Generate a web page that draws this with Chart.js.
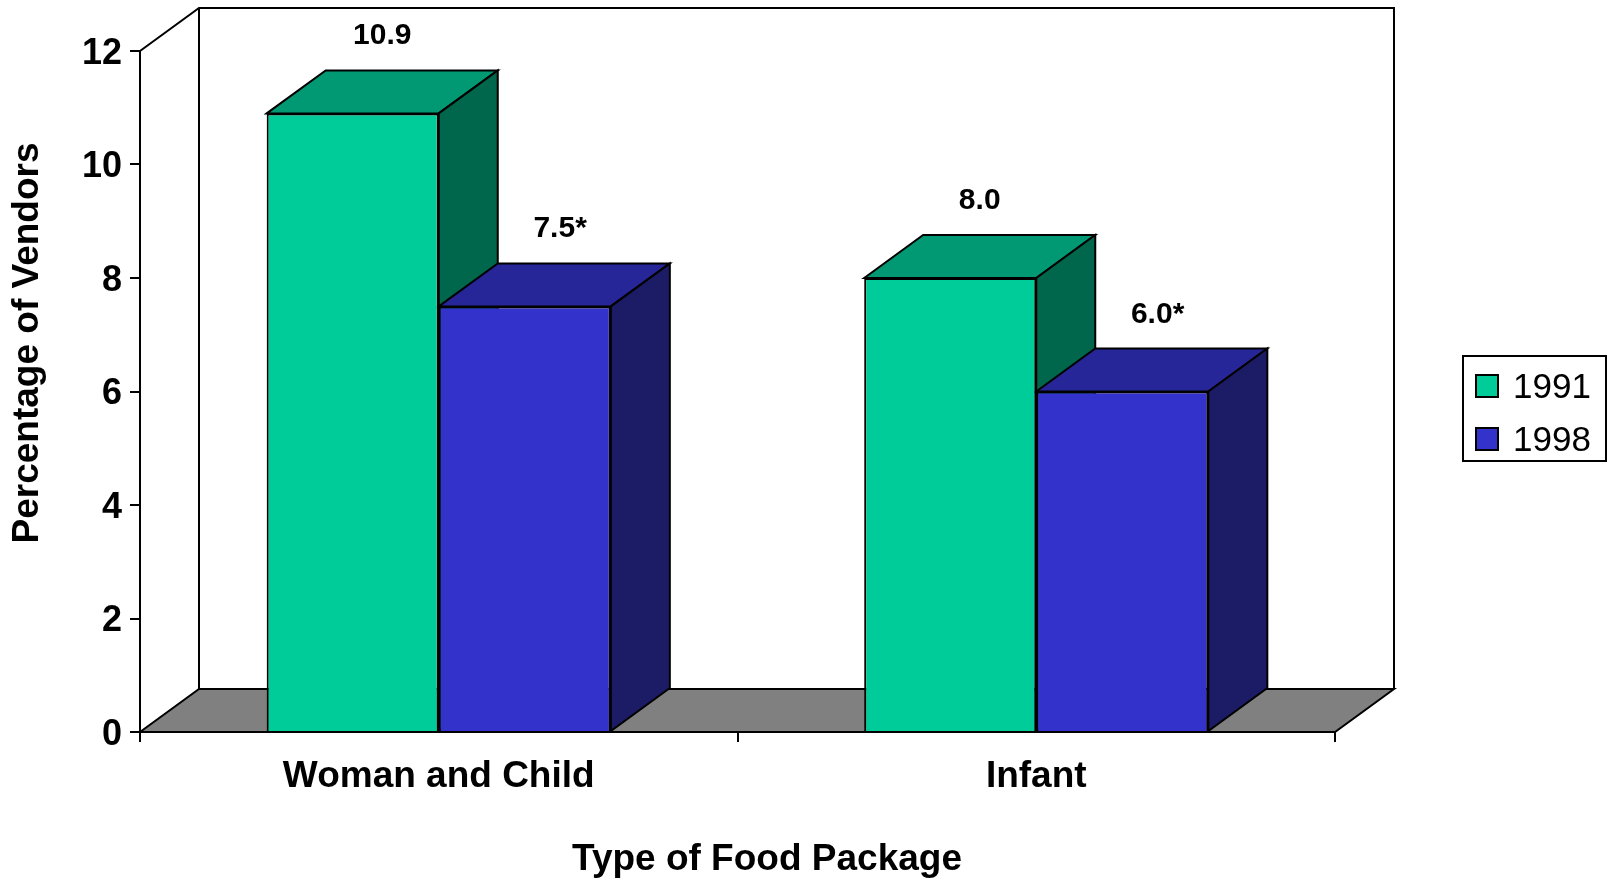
<!DOCTYPE html>
<html>
<head>
<meta charset="utf-8">
<script src="https://cdn.jsdelivr.net/npm/chart.js@4.4.1/dist/chart.umd.min.js"></script>
<style>
  html, body { margin: 0; padding: 0; background: #fff; }
</style>
</head>
<body>
<canvas id="vendorChart" width="1608" height="881"></canvas>
<script>
var packages = ['Woman and Child', 'Infant'];
var years = ['1991', '1998'];
var pct1991 = [10.9, 8.0];
var pct1998 = [7.5, 6.0];
var marks1991 = ['', ''];
var marks1998 = ['*', '*'];   // significant change from 1991
var yMax = 12, yStep = 2;

var frontColors = ['#00CC99', '#3333CC'];
var topColors = ['#009973', '#262699'];
var sideColors = ['#00664C', '#1C1C66'];
var DX = 59, DY = 43;   // depth of the 3d box
var FONT = "'Liberation Sans', Arial, sans-serif";

function poly(ctx, pts, fill) {
  ctx.beginPath();
  ctx.moveTo(pts[0][0], pts[0][1]);
  for (var i = 1; i < pts.length; i++) ctx.lineTo(pts[i][0], pts[i][1]);
  ctx.closePath();
  if (fill) { ctx.fillStyle = fill; ctx.fill(); }
  ctx.stroke();
}

var box3d = {
  id: 'box3d',
  beforeDraw: function(chart) {
    var ctx = chart.ctx, a = chart.chartArea;
    ctx.save();
    ctx.strokeStyle = '#000';
    ctx.lineWidth = 2;
    // floor
    poly(ctx, [[a.left, a.bottom], [a.left + DX, a.bottom - DY],
               [a.right + DX, a.bottom - DY], [a.right, a.bottom]], '#808080');
    // side wall top edge and back wall
    ctx.beginPath();
    ctx.moveTo(a.left, a.top);
    ctx.lineTo(a.left + DX, a.top - DY);
    ctx.lineTo(a.right + DX, a.top - DY);
    ctx.lineTo(a.right + DX, a.bottom - DY);
    ctx.moveTo(a.left + DX, a.top - DY);
    ctx.lineTo(a.left + DX, a.bottom - DY);
    ctx.stroke();
    ctx.restore();
  },
  beforeDatasetsDraw: function(chart) {
    // top and side faces go under the front faces chart.js draws next
    var ctx = chart.ctx;
    ctx.save();
    ctx.strokeStyle = '#000';
    ctx.lineWidth = 2;
    chart.data.datasets.forEach(function(ds, i) {
      chart.getDatasetMeta(i).data.forEach(function(bar) {
        var l = bar.x - bar.width / 2, r = bar.x + bar.width / 2;
        var t = bar.y, b = bar.base;
        poly(ctx, [[l, t], [l + DX, t - DY], [r + DX, t - DY], [r, t]], topColors[i]);
        poly(ctx, [[r, t], [r + DX, t - DY], [r + DX, b - DY], [r, b]], sideColors[i]);
      });
    });
    ctx.restore();
  },
  afterDatasetsDraw: function(chart) {
    var ctx = chart.ctx;
    var marks = [marks1991, marks1998];
    ctx.save();
    ctx.fillStyle = '#000';
    ctx.font = 'bold 30px ' + FONT;
    ctx.textBaseline = 'alphabetic';
    ctx.textAlign = 'left';
    chart.data.datasets.forEach(function(ds, i) {
      chart.getDatasetMeta(i).data.forEach(function(bar, j) {
        var num = ds.data[j].toFixed(1);
        var w = ctx.measureText(num).width;
        var cx = bar.x + DX / 2;
        ctx.fillText(num + marks[i][j], cx - w / 2, bar.y - 69);
      });
    });
    ctx.restore();
  },
  afterDraw: function(chart) {
    var ctx = chart.ctx, a = chart.chartArea;
    ctx.save();
    ctx.fillStyle = '#000';
    ctx.font = 'bold 37px ' + FONT;
    ctx.textAlign = 'center';
    ctx.textBaseline = 'alphabetic';
    // axis titles
    ctx.fillText('Type of Food Package', (a.left + a.right + DX) / 2, 870);
    ctx.translate(38, 343);
    ctx.rotate(-Math.PI / 2);
    ctx.fillText('Percentage of Vendors', 0, 0);
    ctx.restore();

    // legend box
    var lx = chart.width - 145, ly = 356, lw = 143, lh = 105;
    ctx.save();
    ctx.strokeStyle = '#000';
    ctx.lineWidth = 2;
    ctx.fillStyle = '#fff';
    ctx.fillRect(lx, ly, lw, lh);
    ctx.strokeRect(lx, ly, lw, lh);
    ctx.font = '35px ' + FONT;
    ctx.textBaseline = 'alphabetic';
    ctx.textAlign = 'left';
    chart.data.datasets.forEach(function(ds, i) {
      var sy = ly + 19 + i * 53;
      ctx.fillStyle = ds.backgroundColor;
      ctx.fillRect(lx + 13, sy, 22, 22);
      ctx.strokeRect(lx + 13, sy, 22, 22);
      ctx.fillStyle = '#000';
      ctx.fillText(ds.label, lx + 50, sy + 23);
    });
    ctx.restore();
  }
};

new Chart(document.getElementById('vendorChart'), {
  type: 'bar',
  data: {
    labels: packages,
    datasets: [
      { label: years[0], data: pct1991, backgroundColor: frontColors[0],
        borderColor: '#000', borderWidth: 2 },
      { label: years[1], data: pct1998, backgroundColor: frontColors[1],
        borderColor: '#000', borderWidth: 2 }
    ]
  },
  options: {
    responsive: false,
    animation: false,
    devicePixelRatio: 1,
    layout: { padding: { top: 51, right: 273, left: 0, bottom: 0 } },
    datasets: { bar: { barPercentage: 1, categoryPercentage: 0.576 } },
    plugins: { legend: { display: false }, tooltip: { enabled: false } },
    scales: {
      x: {
        grid: { drawOnChartArea: false, color: '#000', lineWidth: 2, tickLength: 10 },
        border: { color: '#000', width: 2 },
        ticks: { color: '#000', padding: 13, font: { family: FONT, size: 37, weight: 'bold' } },
        afterFit: function(s) { s.height = 149; }
      },
      y: {
        min: 0, max: yMax,
        grid: { drawOnChartArea: false, color: '#000', lineWidth: 2, tickLength: 10 },
        border: { color: '#000', width: 2 },
        ticks: { stepSize: yStep, color: '#000', padding: 8, labelOffset: 3,
                 font: { family: FONT, size: 36, weight: 'bold' } },
        afterFit: function(s) { s.width = 140; }
      }
    }
  },
  plugins: [box3d]
});
</script>
</body>
</html>
